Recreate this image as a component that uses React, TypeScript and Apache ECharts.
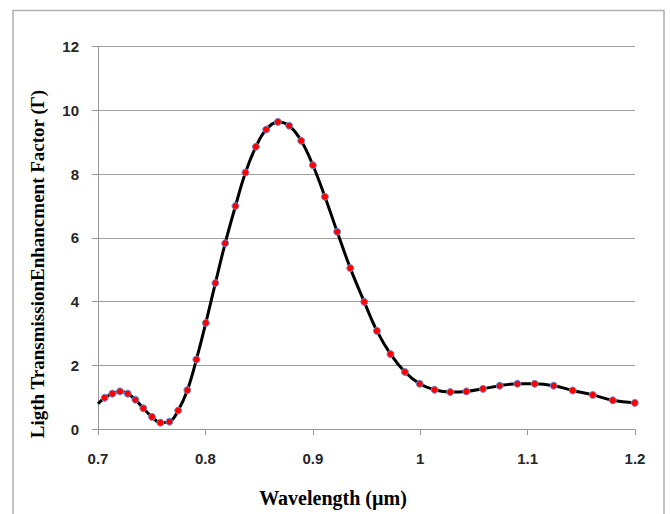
import React, { useEffect, useRef } from "react";
import * as echarts from "echarts";

const wavelength = [
  0.7, 0.7062, 0.7134, 0.7205, 0.7277, 0.7348, 0.7422, 0.7503, 0.7581, 0.7665,
  0.7746, 0.7832, 0.7916, 0.8004, 0.8093, 0.8184, 0.828, 0.8373, 0.847, 0.8566,
  0.8675, 0.878, 0.8892, 0.9001, 0.9113, 0.9227, 0.9349, 0.9479, 0.9597, 0.9724,
  0.9858, 0.9995, 1.0134, 1.028, 1.043, 1.0585, 1.074, 1.0905, 1.1066, 1.1243,
  1.142, 1.1607, 1.1793, 1.1998,
];
const factor = [
  0.79, 0.98, 1.11, 1.18, 1.11, 0.92, 0.65, 0.38, 0.2, 0.23,
  0.58, 1.22, 2.18, 3.33, 4.58, 5.83, 7.0, 8.05, 8.86, 9.4,
  9.64, 9.52, 9.05, 8.28, 7.29, 6.19, 5.05, 3.99, 3.08, 2.35,
  1.79, 1.42, 1.23, 1.16, 1.18, 1.26, 1.36, 1.42, 1.42, 1.36,
  1.21, 1.07, 0.9, 0.82,
];
const yTitle = "Ligth TransmissionEnhancment Factor (Γ)";
const xTitle = "Wavelength (µm)";

export default function App() {
  const ref = useRef<HTMLDivElement>(null);
  useEffect(() => {
    if (!ref.current) return;
    const chart = echarts.init(ref.current, null, { renderer: "svg" });
    const data = wavelength.map((w, i) =>
      i === 0 ? { value: [w, factor[i]], symbol: "none" } : { value: [w, factor[i]] }
    );
    const tickFont = {
      fontFamily: "Liberation Sans",
      fontWeight: "bold" as const,
      fontSize: 15,
      color: "#262626",
    };
    chart.setOption({
      animation: false,
      backgroundColor: "#ffffff",
      grid: { left: 98, right: 35, top: 46.7, bottom: 85, containLabel: false },
      xAxis: {
        type: "value",
        min: 0.7,
        max: 1.2,
        interval: 0.1,
        axisLine: { show: true, lineStyle: { color: "#999999", width: 1 } },
        axisTick: { show: true, length: 6, lineStyle: { color: "#999999" } },
        splitLine: { show: false },
        axisLabel: {
          ...tickFont,
          margin: 22,
          formatter: (v: number) => String(Math.round(v * 10) / 10),
        },
      },
      yAxis: {
        type: "value",
        min: 0,
        max: 12,
        interval: 2,
        axisLine: { show: true, lineStyle: { color: "#999999", width: 1 } },
        axisTick: { show: true, length: 6, lineStyle: { color: "#999999" } },
        splitLine: { show: true, lineStyle: { color: "#a0a0a0", width: 1 } },
        axisLabel: { ...tickFont, margin: 19 },
      },
      graphic: [
        {
          type: "rect",
          shape: { x: 13, y: 10.5, width: 651, height: 520 },
          style: { fill: "none", stroke: "#b0b0b0", lineWidth: 1.5 },
          silent: true,
        },
        {
          type: "text",
          x: 37,
          y: 264,
          rotation: Math.PI / 2,
          style: {
            text: yTitle,
            fontFamily: "Liberation Serif",
            fontWeight: "bold",
            fontSize: 19,
            fill: "#000000",
            textAlign: "center",
            textVerticalAlign: "middle",
          },
        },
        {
          type: "text",
          x: 333,
          y: 498,
          style: {
            text: xTitle,
            fontFamily: "Liberation Serif",
            fontWeight: "bold",
            fontSize: 20,
            fill: "#000000",
            textAlign: "center",
            textVerticalAlign: "middle",
          },
        },
      ],
      series: [
        {
          type: "line",
          data,
          smooth: 0.4,
          symbol: "circle",
          symbolSize: 7,
          lineStyle: { color: "#000000", width: 3 },
          itemStyle: { color: "#ff0000", borderColor: "#6f8fd0", borderWidth: 1 },
          z: 3,
        },
      ],
    });
    return () => chart.dispose();
  }, []);
  return (
    <div
      ref={ref}
      style={{ position: "fixed", left: 0, top: 0, width: 670, height: 514 }}
    />
  );
}
